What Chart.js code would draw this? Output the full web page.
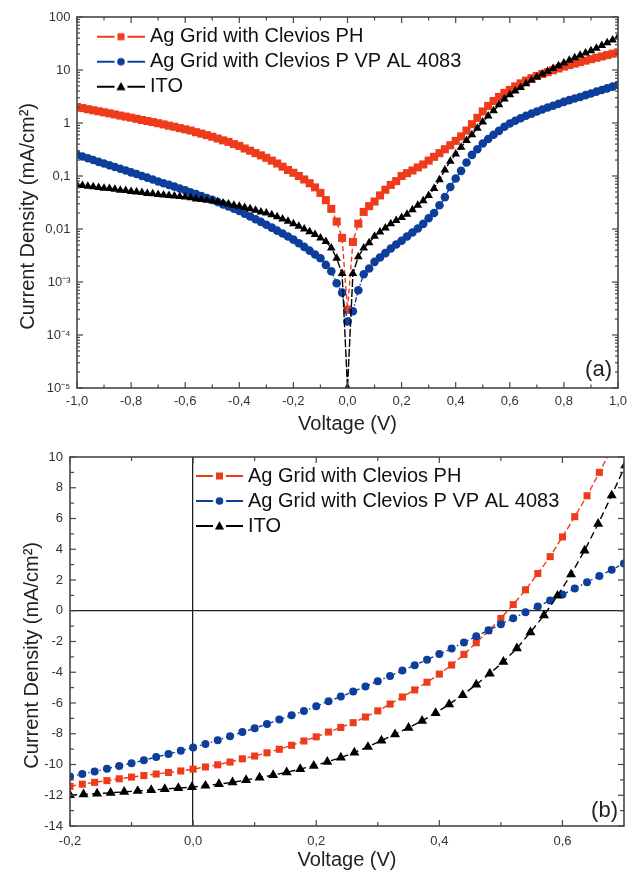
<!DOCTYPE html>
<html>
<head>
<meta charset="utf-8">
<title>J-V curves, Ag grid vs ITO</title>
<script src="https://cdn.jsdelivr.net/npm/chart.js@4.4.1/dist/chart.umd.min.js"></script>
<style>
  html, body { margin: 0; padding: 0; background: #fff; }
  .panel { position: relative; width: 636px; height: 436px; }
</style>
</head>
<body>
<div class="panel"><canvas id="chartDark"></canvas></div>
<div class="panel"><canvas id="chartLight"></canvas></div>
<script>
// series names (same for both panels)
var seriesNames = ['Ag Grid with Clevios PH', 'Ag Grid with Clevios P VP AL 4083', 'ITO'];

// ---- panel (a): dark J-V, log scale ----
var voltsDark = [
  -1, -0.98, -0.96, -0.94, -0.92, -0.9, -0.88, -0.86, -0.84, -0.82,
  -0.8, -0.78, -0.76, -0.74, -0.72, -0.7, -0.68, -0.66, -0.64, -0.62,
  -0.6, -0.58, -0.56, -0.54, -0.52, -0.5, -0.48, -0.46, -0.44, -0.42,
  -0.4, -0.38, -0.36, -0.34, -0.32, -0.3, -0.28, -0.26, -0.24, -0.22,
  -0.2, -0.18, -0.16, -0.14, -0.12, -0.1, -0.08, -0.06, -0.04, -0.02,
  0,
  0.02, 0.04, 0.06, 0.08, 0.1, 0.12, 0.14, 0.16, 0.18, 0.2,
  0.22, 0.24, 0.26, 0.28, 0.3, 0.32, 0.34, 0.36, 0.38, 0.4,
  0.42, 0.44, 0.46, 0.48, 0.5, 0.52, 0.54, 0.56, 0.58, 0.6,
  0.62, 0.64, 0.66, 0.68, 0.7, 0.72, 0.74, 0.76, 0.78, 0.8,
  0.82, 0.84, 0.86, 0.88, 0.9, 0.92, 0.94, 0.96, 0.98, 1
];
var phDark = [
  2.00, 1.91, 1.82, 1.74, 1.66, 1.59, 1.52, 1.45, 1.38, 1.32,
  1.26, 1.20, 1.14, 1.09, 1.04, 0.99, 0.94, 0.89, 0.85, 0.80,
  0.76, 0.72, 0.67, 0.63, 0.59, 0.55, 0.51, 0.47, 0.44, 0.40,
  0.37, 0.33, 0.30, 0.27, 0.245, 0.22, 0.195, 0.172, 0.15, 0.13,
  0.115, 0.10, 0.086, 0.073, 0.061, 0.048, 0.035, 0.024, 0.0138, 0.0068,
  0.0003,
  0.0057, 0.0126, 0.021, 0.027, 0.033, 0.043, 0.055, 0.068, 0.08, 0.10,
  0.113, 0.127, 0.145, 0.165, 0.195, 0.23, 0.27, 0.32, 0.38, 0.46,
  0.56, 0.72, 0.95, 1.25, 1.65, 2.10, 2.60, 3.10, 3.70, 4.20,
  4.90, 5.60, 6.30, 7.00, 7.70, 8.40, 9.10, 9.90, 10.7, 11.6,
  12.4, 13.2, 14.1, 15.0, 16.0, 17.0, 18.0, 19.1, 20.3, 21.5
];
var alDark = [
  0.251, 0.233, 0.216, 0.200, 0.185, 0.172, 0.159, 0.148, 0.137, 0.127,
  0.117, 0.109, 0.100, 0.093, 0.086, 0.079, 0.073, 0.068, 0.063, 0.058,
  0.054, 0.049, 0.0455, 0.042, 0.0385, 0.0355, 0.0322, 0.0292, 0.0265, 0.0241,
  0.0219, 0.0194, 0.0172, 0.0153, 0.0136, 0.0120, 0.0106, 0.0093, 0.0082, 0.0072,
  0.0063, 0.0054, 0.0046, 0.0039, 0.0033, 0.0028, 0.0021, 0.0016, 0.00095, 0.00063,
  0.00018,
  0.00028, 0.0007, 0.0014, 0.0018, 0.0024, 0.0029, 0.0035, 0.0043, 0.0051, 0.006,
  0.0072, 0.0086, 0.0102, 0.0125, 0.016, 0.02, 0.028, 0.04, 0.062, 0.09,
  0.125, 0.18, 0.25, 0.32, 0.41, 0.5, 0.6, 0.71, 0.85, 0.98,
  1.1, 1.23, 1.37, 1.5, 1.65, 1.8, 1.96, 2.12, 2.3, 2.5,
  2.7, 2.9, 3.1, 3.35, 3.6, 3.9, 4.2, 4.5, 4.85, 5.2
];
var itoDark = [
  0.068, 0.066, 0.064, 0.063, 0.061, 0.059, 0.058, 0.056, 0.054, 0.053,
  0.051, 0.050, 0.049, 0.047, 0.046, 0.045, 0.044, 0.043, 0.042, 0.041,
  0.040, 0.039, 0.037, 0.036, 0.035, 0.034, 0.0325, 0.031, 0.0295, 0.028,
  0.027, 0.0255, 0.024, 0.0225, 0.021, 0.020, 0.0185, 0.017, 0.0155, 0.014,
  0.0126, 0.0113, 0.010, 0.0089, 0.0079, 0.0068, 0.0058, 0.0044, 0.0028, 0.00145,
  0.00001,
  0.00145, 0.003, 0.0044, 0.0055, 0.0073, 0.0088, 0.0105, 0.0125, 0.0145, 0.0165,
  0.019, 0.023, 0.028, 0.034, 0.043, 0.058, 0.085, 0.13, 0.19, 0.26,
  0.35, 0.47, 0.60, 0.80, 1.05, 1.35, 1.70, 2.20, 2.85, 3.40,
  4.00, 4.70, 5.50, 6.40, 7.40, 8.40, 9.50, 10.7, 12.0, 13.5,
  15.2, 17.0, 19.0, 21.0, 23.0, 25.8, 29.0, 32.5, 37.0, 42.0
];
var voltTicksDark = [-1, -0.8, -0.6, -0.4, -0.2, 0, 0.2, 0.4, 0.6, 0.8, 1];
var densityTicksDark = [1e-5, 1e-4, 1e-3, 0.01, 0.1, 1, 10, 100];
var densityLabelsDark = ['10\u207B\u2075', '10\u207B\u2074', '10\u207B\u00B3', '0,01', '0,1', '1', '10', '100'];

// ---- panel (b): illuminated J-V, linear ----
var voltsLight = [
  -0.2, -0.18, -0.16, -0.14, -0.12, -0.1, -0.08, -0.06, -0.04, -0.02,
  0, 0.02, 0.04, 0.06, 0.08, 0.1, 0.12, 0.14, 0.16, 0.18,
  0.2, 0.22, 0.24, 0.26, 0.28, 0.3, 0.32, 0.34, 0.36, 0.38,
  0.4, 0.42, 0.44, 0.46, 0.48, 0.5, 0.52, 0.54, 0.56, 0.58,
  0.6, 0.62, 0.64, 0.66, 0.68, 0.7
];
var phLight = [
  -11.42, -11.28, -11.16, -11.05, -10.93, -10.82, -10.72, -10.62, -10.52, -10.42,
  -10.30, -10.16, -10.02, -9.84, -9.63, -9.45, -9.24, -9.01, -8.75, -8.47,
  -8.20, -7.89, -7.59, -7.28, -6.91, -6.51, -6.07, -5.61, -5.15, -4.65,
  -4.12, -3.53, -2.84, -2.08, -1.30, -0.50, 0.40, 1.36, 2.42, 3.52,
  4.80, 6.12, 7.48, 9.00, 10.55, 12.2
];
var alLight = [
  -10.78, -10.62, -10.46, -10.27, -10.09, -9.92, -9.72, -9.51, -9.32, -9.11,
  -8.89, -8.67, -8.42, -8.16, -7.89, -7.64, -7.37, -7.08, -6.80, -6.52,
  -6.21, -5.89, -5.58, -5.26, -4.92, -4.58, -4.24, -3.89, -3.54, -3.18,
  -2.82, -2.45, -2.06, -1.66, -1.27, -0.88, -0.49, -0.10, 0.28, 0.66,
  1.05, 1.45, 1.86, 2.26, 2.66, 3.08
];
// ITO was measured on a slightly wider voltage step
var voltsLightIto = [
  -0.2, -0.178, -0.156, -0.134, -0.112, -0.09, -0.068, -0.046, -0.024, -0.002,
  0.02, 0.042, 0.064, 0.086, 0.108, 0.13, 0.152, 0.174, 0.196, 0.218,
  0.24, 0.262, 0.284, 0.306, 0.328, 0.35, 0.372, 0.394, 0.416, 0.438,
  0.46, 0.482, 0.504, 0.526, 0.548, 0.57, 0.592, 0.614, 0.636, 0.658,
  0.68, 0.702
];
var itoLight = [
  -11.99, -11.94, -11.89, -11.84, -11.78, -11.72, -11.66, -11.60, -11.53, -11.47,
  -11.38, -11.27, -11.16, -11.01, -10.85, -10.69, -10.51, -10.30, -10.08, -9.83,
  -9.55, -9.22, -8.86, -8.44, -8.04, -7.61, -7.16, -6.66, -6.08, -5.48,
  -4.80, -4.08, -3.32, -2.45, -1.40, -0.30, 0.98, 2.36, 3.92, 5.66,
  7.50, 9.45
];
var voltTicksLight = [-0.2, 0, 0.2, 0.4, 0.6];
var densityTicksLight = [-14, -12, -10, -8, -6, -4, -2, 0, 2, 4, 6, 8, 10];


Chart.defaults.font.family = '"Liberation Sans", Arial, Helvetica, sans-serif';
Chart.defaults.color = '#333';

var RED = '#ee3b1b', BLUE = '#0d3e9c', BLACK = '#000000';
// trailing no-break spaces nudge the rotated title down a bit, like the original
var yTitle = 'Current Density (mA/cm\u00B2)\u00A0\u00A0\u00A0\u00A0\u00A0';

function commaLabel(v) {
  return (Math.round(v * 10) / 10).toFixed(1).replace('.', ',');
}

function makeSet(name, volts, values, color, marker, radius, dash, order) {
  return {
    label: name,
    data: volts.map(function (v, i) { return { x: v, y: values[i] }; }),
    borderColor: color,
    backgroundColor: color,
    borderWidth: 1.4,
    borderDash: dash,
    pointStyle: marker,
    pointRadius: radius,
    pointBorderWidth: 0,
    pointBackgroundColor: color,
    tension: 0,
    order: order
  };
}

// little "—■—" picture for the legend
function makeSwatch(color, marker, width, lineFrom) {
  var c = document.createElement('canvas');
  c.width = width;
  c.height = 16;
  var g = c.getContext('2d');
  var mid = (lineFrom + width) / 2, cy = 8;
  g.strokeStyle = color;
  g.fillStyle = color;
  g.lineWidth = 2;
  g.beginPath();
  g.moveTo(lineFrom, cy); g.lineTo(mid - 6.5, cy);
  g.moveTo(mid + 6.5, cy); g.lineTo(width, cy);
  g.stroke();
  g.beginPath();
  if (marker === 'rect') {
    g.rect(mid - 3.5, cy - 3.5, 7, 7);
  } else if (marker === 'circle') {
    g.arc(mid, cy, 3.8, 0, Math.PI * 2);
  } else {
    g.moveTo(mid, cy - 4.8); g.lineTo(mid + 4.6, cy + 3.4); g.lineTo(mid - 4.6, cy + 3.4); g.closePath();
  }
  g.fill();
  return c;
}

function legendOpts(swatches, boxW, offsetTop) {
  return {
    position: 'chartArea',
    align: 'start',
    title: { display: true, text: '', font: { size: 10, lineHeight: 1 }, padding: { top: 0, bottom: offsetTop } },
    labels: {
      usePointStyle: true,
      pointStyleWidth: boxW,
      padding: 5,
      color: '#111',
      font: { size: 20 },
      generateLabels: function (chart) {
        return chart.data.datasets.map(function (ds, i) {
          return {
            text: ds.label, pointStyle: swatches[i], fontColor: '#111',
            datasetIndex: i, hidden: false, lineWidth: 0,
            strokeStyle: 'rgba(0,0,0,0)', fillStyle: 'rgba(0,0,0,0)'
          };
        });
      }
    }
  };
}

// box around the plot with inward tick marks on all four sides, plus panel tag
var framePlugin = {
  id: 'frame',
  afterDatasetsDraw: function (chart, args, opts) {
    var ctx = chart.ctx, area = chart.chartArea;
    var xs = chart.scales.x, ys = chart.scales.y;
    function seg(x1, y1, x2, y2) {
      ctx.beginPath(); ctx.moveTo(x1, y1); ctx.lineTo(x2, y2); ctx.stroke();
    }
    ctx.save();
    ctx.strokeStyle = '#474747';
    ctx.lineWidth = 1.2;
    opts.xTicks.forEach(function (t) {
      var p = xs.getPixelForValue(t[0]);
      seg(p, area.bottom, p, area.bottom - t[1]);
      seg(p, area.top, p, area.top + t[1]);
    });
    opts.yTicks.forEach(function (t) {
      var p = ys.getPixelForValue(t[0]);
      seg(area.left, p, area.left + t[1], p);
      seg(area.right, p, area.right - t[1], p);
    });
    ctx.lineWidth = 1.6;
    ctx.strokeRect(area.left, area.top, area.right - area.left, area.bottom - area.top);
    ctx.fillStyle = '#222';
    ctx.font = '22px "Liberation Sans", Arial, sans-serif';
    ctx.textAlign = 'right';
    ctx.textBaseline = 'middle';
    ctx.fillText(opts.tag, area.right - 6, area.bottom - opts.tagUp);
    ctx.restore();
  }
};

// tick mark positions for the frame
var xMarksDark = [], yMarksDark = [], xMarksLight = [], yMarksLight = [];
for (var k = -10; k <= 10; k++) xMarksDark.push([k / 10, k % 2 === 0 ? 6 : 3.5]);
for (var e = -5; e <= 2; e++) {
  yMarksDark.push([Math.pow(10, e), 6]);
  if (e < 2) for (var m = 2; m <= 9; m++) yMarksDark.push([m * Math.pow(10, e), 3]);
}
for (var k2 = -2; k2 <= 6; k2++) xMarksLight.push([k2 / 10, k2 % 2 === 0 ? 6 : 4]);
for (var j = -14; j <= 10; j++) yMarksLight.push([j, j % 2 === 0 ? 6 : 4]);

var titleFont = { size: 20 };
var tickFont = { size: 13 };

// panel (a)
new Chart(document.getElementById('chartDark'), {
  type: 'line',
  data: {
    datasets: [
      makeSet(seriesNames[0], voltsDark, phDark, RED, 'rect', 5.7, [5, 3], 2),
      makeSet(seriesNames[1], voltsDark, alDark, BLUE, 'circle', 4.3, [5, 2, 1.5, 2], 1),
      makeSet(seriesNames[2], voltsDark, itoDark, BLACK, 'triangle', 5, [8, 2], 0)
    ]
  },
  plugins: [framePlugin],
  options: {
    responsive: true,
    maintainAspectRatio: false,
    animation: false,
    layout: { padding: { left: 0, right: 18, top: 17, bottom: 0 } },
    plugins: {
      legend: legendOpts([
        makeSwatch(RED, 'rect', 68, 20),
        makeSwatch(BLUE, 'circle', 68, 20),
        makeSwatch(BLACK, 'triangle', 68, 20)
      ], 58, 11.7),
      tooltip: { enabled: false },
      frame: { xTicks: xMarksDark, yTicks: yMarksDark, tag: '(a)', tagUp: 18 }
    },
    scales: {
      x: {
        type: 'linear', min: -1, max: 1,
        grid: { display: false, drawTicks: false }, border: { display: false },
        afterBuildTicks: function (s) { s.ticks = voltTicksDark.map(function (v) { return { value: v }; }); },
        afterFit: function (s) { s.height = 48; },
        ticks: { padding: 6, maxRotation: 0, autoSkip: false, font: tickFont, color: '#333', callback: commaLabel },
        title: { display: true, text: 'Voltage (V)', font: titleFont, color: '#222', padding: { top: 0, bottom: 0 } }
      },
      y: {
        type: 'logarithmic', min: 1e-5, max: 100,
        grid: { display: false, drawTicks: false }, border: { display: false },
        afterBuildTicks: function (s) { s.ticks = densityTicksDark.map(function (v) { return { value: v }; }); },
        afterFit: function (s) { s.width = 77; },
        ticks: {
          padding: 6.5, autoSkip: false, font: tickFont, color: '#333',
          callback: function (v) { return densityLabelsDark[densityTicksDark.indexOf(v)]; }
        },
        title: { display: true, text: yTitle, font: titleFont, color: '#222', padding: { top: 16, bottom: 0 } }
      }
    }
  }
});

// panel (b)
function zeroLine(c) {
  return c.tick && c.tick.value === 0 ? '#222' : 'rgba(0,0,0,0)';
}

new Chart(document.getElementById('chartLight'), {
  type: 'line',
  data: {
    datasets: [
      makeSet(seriesNames[0], voltsLight, phLight, RED, 'rect', 5, [6, 3], 2),
      makeSet(seriesNames[1], voltsLight, alLight, BLUE, 'circle', 4, [4, 3, 1.5, 3], 1),
      makeSet(seriesNames[2], voltsLightIto, itoLight, BLACK, 'triangle', 5.8, [7, 4], 0)
    ]
  },
  plugins: [framePlugin],
  options: {
    responsive: true,
    maintainAspectRatio: false,
    animation: false,
    layout: { padding: { left: 0, right: 12, top: 21, bottom: 0 } },
    plugins: {
      legend: legendOpts([
        makeSwatch(RED, 'rect', 173, 126),
        makeSwatch(BLUE, 'circle', 173, 126),
        makeSwatch(BLACK, 'triangle', 173, 126)
      ], 163, 15),
      tooltip: { enabled: false },
      frame: { xTicks: xMarksLight, yTicks: yMarksLight, tag: '(b)', tagUp: 15 }
    },
    scales: {
      x: {
        type: 'linear', min: -0.2, max: 0.7,
        grid: { color: zeroLine, lineWidth: 1.3, drawTicks: false }, border: { display: false },
        afterBuildTicks: function (s) { s.ticks = voltTicksLight.map(function (v) { return { value: v }; }); },
        afterFit: function (s) { s.height = 46; },
        ticks: { padding: 8, maxRotation: 0, autoSkip: false, font: tickFont, color: '#333', callback: commaLabel },
        title: { display: true, text: 'Voltage (V)', font: titleFont, color: '#222', padding: { top: 0, bottom: 0 } }
      },
      y: {
        type: 'linear', min: -14, max: 10,
        grid: { color: zeroLine, lineWidth: 1.3, drawTicks: false }, border: { display: false },
        afterBuildTicks: function (s) { s.ticks = densityTicksLight.map(function (v) { return { value: v }; }); },
        afterFit: function (s) { s.width = 70; },
        ticks: { padding: 7, autoSkip: false, font: tickFont, color: '#333' },
        title: { display: true, text: yTitle, font: titleFont, color: '#222', padding: { top: 20, bottom: 0 } }
      }
    }
  }
});
</script>
</body>
</html>
